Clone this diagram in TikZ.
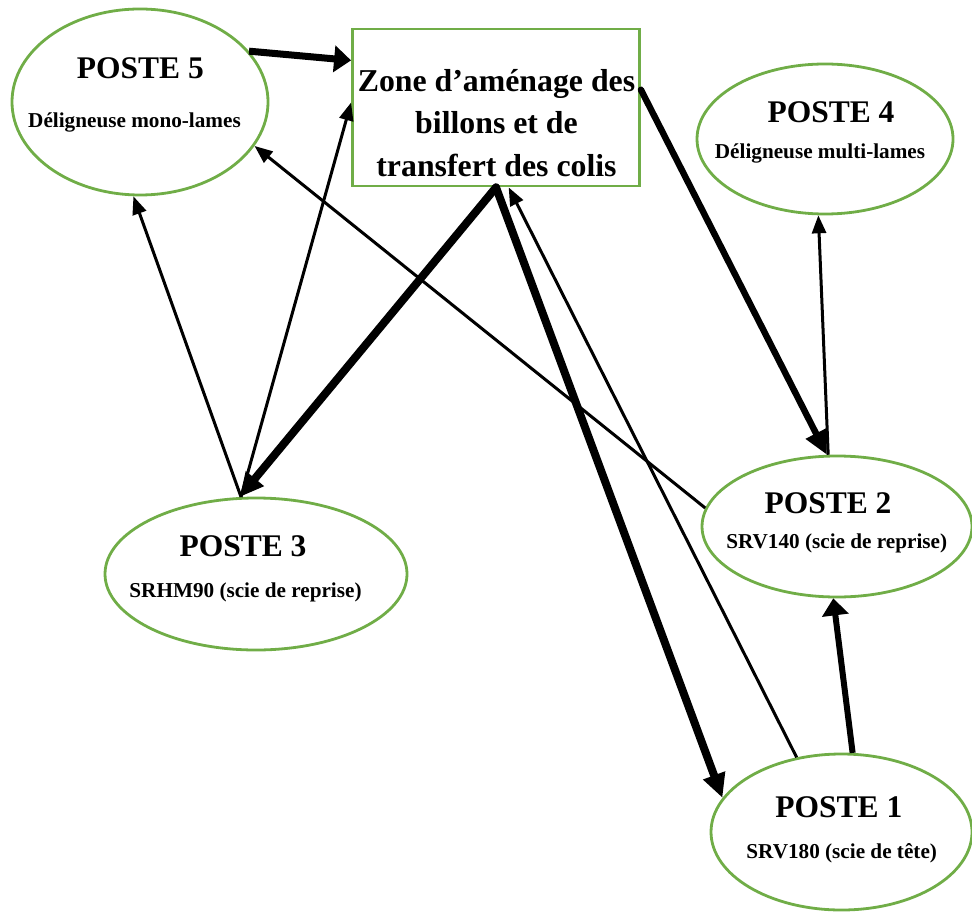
\documentclass[tikz,border=0pt]{standalone}
\usepackage{fontspec}
\setmainfont{Liberation Serif}
\usetikzlibrary{arrows.meta,shapes.geometric}
\definecolor{Vert}{HTML}{70AD47}

\begin{document}
\begin{tikzpicture}[x=0.5pt,y=-0.5pt,
    poste/.style={ellipse,draw=Vert,line width=1.4pt,inner sep=0pt},
    titre/.style={anchor=base,inner sep=0pt,font=\fontsize{15.75}{19}\selectfont\bfseries},
    soustitre/.style={anchor=base,inner sep=0pt,font=\fontsize{10.6}{13}\selectfont\bfseries},
    fin/.style={line width=1.5pt,-{Triangle[length=9pt,width=7pt]}},
    moyen/.style={line width=3pt,-{Triangle[length=8.5pt,width=13pt]}},
    gros/.style={line width=4pt,line cap=round,-{Triangle[length=12pt,width=11pt]}}]
  \useasboundingbox (0,0) rectangle (972,914);
  % zone centrale
  \node[draw=Vert,line width=1.4pt,minimum width=143.5pt,minimum height=78.5pt,inner sep=0pt] (zone) at (496,107.5) {};
  \node[align=center,inner sep=0pt,font=\fontsize{15.9}{21.35}\selectfont\bfseries] (zonet) at (496.5,123) {Zone d’aménage des\\billons et de\\transfert des colis};
  % postes
  \node[poste,minimum width=128pt,minimum height=93pt] (p5) at (140,102) {};
  \node[titre] (p5t) at (140.3,79) {POSTE 5};
  \node[soustitre] (p5s) at (134.5,128) {Déligneuse mono-lames};
  \node[poste,minimum width=128pt,minimum height=75pt] (p4) at (825,139) {};
  \node[titre] (p4t) at (831,123) {POSTE 4};
  \node[soustitre] (p4s) at (820,159) {Déligneuse multi-lames};
  \node[poste,minimum width=151pt,minimum height=76pt] (p3) at (256,574) {};
  \node[titre] (p3t) at (243,556) {POSTE 3};
  \node[soustitre] (p3s) at (245.5,597) {SRHM90 (scie de reprise)};
  \node[poste,minimum width=135pt,minimum height=70.5pt] (p2) at (837,526.5) {};
  \node[titre] (p2t) at (828,513) {POSTE 2};
  \node[soustitre] (p2s) at (836.7,548) {SRV140 (scie de reprise)};
  \node[poste,minimum width=130.5pt,minimum height=78pt] (p1) at (841.5,832) {};
  \node[titre] (p1t) at (838.8,817) {POSTE 1};
  \node[soustitre] (p1s) at (841.7,858) {SRV180 (scie de tête)};
  % flux
  \draw[moyen,line width=3.5pt] (p5.25) -- (zone.162);
  \draw[fin] (p3.101) -- (zone.178);
  \draw[fin] (p3.101) -- (p5.-94);
  \draw[gros] (zone.south) -- (p3.102);
  \draw[gros] (zone.south) -- (p1.164);
  \draw[fin] (p1.121) -- (zone.-81);
  \draw[gros,line width=3.2pt] (zone.7) -- (p2.98);
  \draw[fin] (p2.97) -- (p4.-95);
  \draw[fin] (p2.172) -- (p5.-21);
  \draw[moyen] (p1.82) -- (p2.-93);
\end{tikzpicture}
\end{document}
